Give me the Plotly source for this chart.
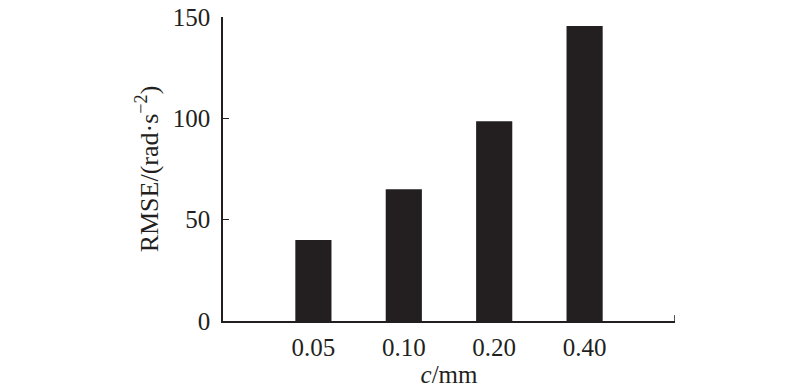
import plotly.graph_objects as go

categories = ["0.05", "0.10", "0.20", "0.40"]
rmse = [40, 65, 98.5, 145.5]
y_ticks = [0, 50, 100, 150]

ink = "#231f20"
font = "Liberation Serif"

fig = go.Figure(go.Bar(
    x=list(range(len(categories))), y=rmse, width=0.4,
    marker=dict(color=ink, line=dict(width=0)),
))

fig.update_layout(
    width=800, height=392,
    margin=dict(l=223, r=125, t=17, b=71, autoexpand=False),
    plot_bgcolor="white", paper_bgcolor="white",
    showlegend=False,
    font=dict(family=font, size=25, color=ink),
)
fig.update_xaxes(
    range=[-1, 4], tickvals=list(range(len(categories))), ticktext=categories,
    showline=True, linecolor=ink, linewidth=1.5, ticks="", showgrid=False,
    zeroline=False, ticklabelstandoff=3, automargin=False,
    tickfont=dict(family=font, size=25, color=ink),
    title=dict(text="<i>c</i>/mm", standoff=5, font=dict(family=font, size=25, color=ink)),
)
fig.update_yaxes(
    range=[0, 150], tickvals=y_ticks, ticks="inside", ticklen=6, tickwidth=1.2,
    tickcolor=ink, showline=True, linecolor=ink, linewidth=1.5, showgrid=False,
    zeroline=False, ticklabelstandoff=6, automargin=False,
    tickfont=dict(family=font, size=25, color=ink),
    title=dict(text="RMSE/(rad·s<sup>−2</sup>)", standoff=7,
               font=dict(family=font, size=26, color=ink)),
)
fig.add_shape(type="line", xref="x", yref="y", x0=4, x1=4, y0=0, y1=3,
              line=dict(color=ink, width=1.5))

fig.write_html("out.html", config={"displayModeBar": False},
               post_script="document.body.style.margin='0';")
